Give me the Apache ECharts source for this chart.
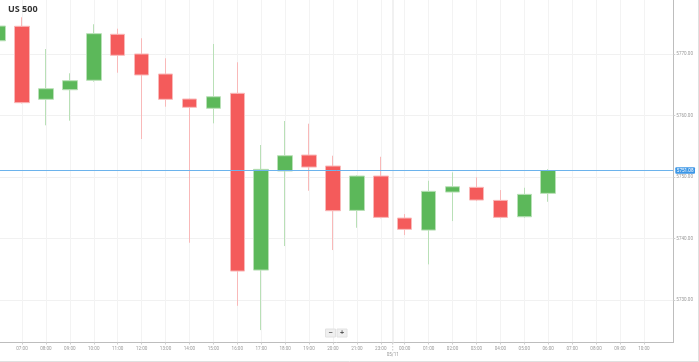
<!DOCTYPE html>
<html>
<head>
<meta charset="utf-8">
<script src="https://cdn.jsdelivr.net/npm/echarts@6/dist/echarts.min.js"></script>
<style>
html,body{margin:0;padding:0;background:#fff;}
#chart{width:699px;height:362px;}
</style>
</head>
<body>
<div id="chart"></div>
<script>
// Hour labels (one slot per hourly candle, 22:00 break skipped)
const hours = ['06:00','07:00','08:00','09:00','10:00','11:00','12:00','13:00','14:00','15:00','16:00','17:00','18:00','19:00','20:00','21:00','23:00','00:00','01:00','02:00','03:00','04:00','05:00','06:00','07:00','08:00','09:00','10:00'];
const opens  = [5772.2,5774.56,5762.67,5764.23,5765.77,5773.26,5770.05,5766.79,5762.72,5761.21,5763.65,5734.87,5751.00,5753.60,5751.81,5744.59,5750.18,5743.34,5741.38,5747.57,5748.34,5746.22,5743.55,5747.36];
const closes = [5774.6,5762.12,5764.40,5765.70,5773.36,5769.84,5766.63,5762.67,5761.37,5763.09,5734.71,5751.27,5753.49,5751.64,5744.53,5750.18,5743.45,5741.50,5747.69,5748.44,5746.27,5743.45,5747.20,5751.08];
const lows   = [5772.0,5761.99,5758.44,5759.19,5765.54,5767.00,5756.21,5761.47,5739.32,5758.76,5729.06,5725.10,5738.78,5747.79,5738.13,5741.76,5743.30,5740.57,5735.80,5742.85,5746.10,5743.30,5743.40,5745.99];
const highs  = [5774.8,5776.03,5770.86,5766.91,5774.89,5774.17,5772.61,5769.35,5762.80,5771.68,5768.70,5755.23,5759.14,5758.70,5753.49,5750.30,5753.32,5743.99,5749.41,5750.78,5749.97,5747.90,5748.27,5751.30];
const yTicks = [5730, 5740, 5750, 5760, 5770];
const lastPrice = 5751.08;
const dayBreak = 16.5;   // between 23:00 and 00:00
const dayLabel = '05/11';
const title = 'US 500';

const candleData = opens.map((o, i) => [i, o, closes[i], lows[i], highs[i]]);
const xIdx = hours.map((h, i) => i);

const chart = echarts.init(document.getElementById('chart'), null, {renderer: 'canvas'});
const labelFont = 'Roboto';
chart.setOption({
  animation: false,
  backgroundColor: '#fff',
  grid: {left: 0, right: 25.7, top: 0, bottom: 19.5, containLabel: false},
  xAxis: {
    type: 'value',
    min: 0.08, max: 28.23,
    axisLine: {show: true, onZero: false, lineStyle: {color: '#bdbdbd', width: 1}},
    axisTick: {show: true, length: 2, lineStyle: {color: '#cfcfcf'}, customValues: xIdx},
    axisLabel: {customValues: xIdx, formatter: v => hours[Math.round(v)] || '', fontSize: 4.6, color: '#9a9a9a', margin: 4, fontFamily: labelFont},
    splitLine: {show: true, lineStyle: {color: '#f3f3f3', width: 1}}
  },
  yAxis: {
    type: 'value',
    position: 'right',
    min: 5723.08, max: 5778.84,
    axisLine: {show: true, onZero: false, lineStyle: {color: '#bdbdbd', width: 1}},
    axisTick: {show: true, length: 2, lineStyle: {color: '#cfcfcf'}, customValues: yTicks},
    axisLabel: {customValues: yTicks, formatter: v => v.toFixed(2), fontSize: 4.6, color: '#9a9a9a', margin: 3, fontFamily: labelFont},
    splitLine: {show: true, lineStyle: {color: '#f1f1f1', width: 1}}
  },
  series: [{
    type: 'candlestick',
    data: candleData,
    encode: {x: 0, y: [1, 2, 3, 4]},
    barWidth: 15,
    clip: true,
    itemStyle: {
      color: '#5cb85a',
      color0: '#f45b5b',
      borderColor: '#b9e0b7',
      borderColor0: '#f9b9b9',
      borderWidth: 1
    },
    markLine: {
      silent: true,
      symbol: 'none',
      animation: false,
      data: [
        {xAxis: dayBreak, lineStyle: {color: '#ededed', width: 1.5, type: 'solid'}, label: {show: false}},
        {yAxis: lastPrice, lineStyle: {color: '#6cb3ec', width: 1, type: 'solid'},
         label: {show: true, position: 'end', distance: 2, formatter: lastPrice.toFixed(2), color: '#fff',
                 backgroundColor: '#3d97e6', borderRadius: 1, padding: [1, 1.5, 0.5, 1.5], fontSize: 4.6, fontFamily: labelFont}}
      ]
    }
  }]
});

const bx = chart.convertToPixel({xAxisIndex: 0}, dayBreak);
chart.setOption({
  graphic: [
    {type: 'text', left: 8, top: 5, style: {text: title, fontSize: 9, fontWeight: 'bold', fill: '#333', fontFamily: 'Open Sans'}},
    {type: 'line', shape: {x1: bx, y1: 343, x2: bx, y2: 352}, style: {stroke: '#c8c8c8', lineDash: [1.5, 1.5], lineWidth: 1}},
    {type: 'text', x: bx, y: 352.5, style: {text: dayLabel, fontSize: 4.6, fill: '#9a9a9a', align: 'center', fontFamily: labelFont}},
    {type: 'rect', shape: {x: 325.5, y: 329, width: 10, height: 8}, style: {fill: '#efefef', stroke: '#e2e2e2'}},
    {type: 'rect', shape: {x: 337, y: 329, width: 10, height: 8}, style: {fill: '#efefef', stroke: '#e2e2e2'}},
    {type: 'text', x: 330.5, y: 333, style: {text: '−', fontSize: 7, fill: '#555', align: 'center', verticalAlign: 'middle', fontWeight: 'bold'}},
    {type: 'text', x: 342, y: 333, style: {text: '+', fontSize: 7, fill: '#555', align: 'center', verticalAlign: 'middle', fontWeight: 'bold'}},
    {type: 'line', shape: {x1: 698.5, y1: 0, x2: 698.5, y2: 362}, style: {stroke: '#e0e0e0', lineWidth: 1}},
    {type: 'line', shape: {x1: 0, y1: 361.5, x2: 699, y2: 361.5}, style: {stroke: '#e0e0e0', lineWidth: 1}}
  ]
});
</script>
</body>
</html>
